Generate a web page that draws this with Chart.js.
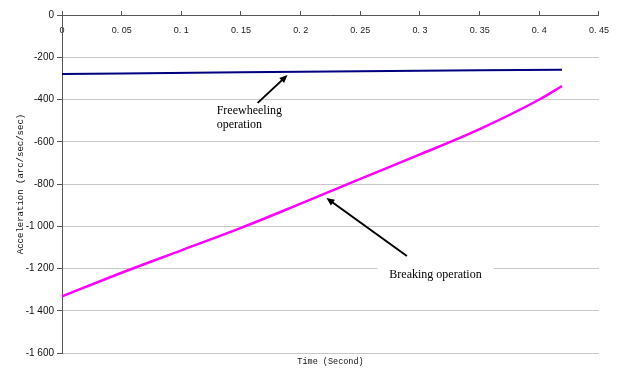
<!DOCTYPE html>
<html>
<head>
<meta charset="utf-8">
<title>Acceleration vs time</title>
<script src="https://cdn.jsdelivr.net/npm/chart.js@4/dist/chart.umd.min.js"></script>
<style>
  html, body { margin: 0; padding: 0; background: #fff; }
  #wrap { width: 619px; height: 379px; }
</style>
</head>
<body>
<div id="wrap"><canvas id="accel-chart"></canvas></div>
<script>
// ── Data ──────────────────────────────────────────────────────────────
const TIME_FREE  = [0, 0.05, 0.15, 0.25, 0.35, 0.419];
const ACCEL_FREE = [-279, -277, -271, -266, -262, -259];

const TIME_BRAKE  = [0, 0.05, 0.1, 0.15, 0.2, 0.25, 0.3, 0.35, 0.4, 0.419];
const ACCEL_BRAKE = [-1332, -1220, -1114, -1008, -893, -776, -660, -540, -400, -336];

const X_MIN = 0,     X_MAX = 0.45, X_STEP = 0.05;
const Y_MIN = -1600, Y_MAX = 0,    Y_STEP = 200;

const X_TITLE = 'Time (Second)';
const Y_TITLE = 'Acceleration (arc/sec/sec)';

// callouts, in data units: text anchor + arrow tail -> head
const NOTE_FREE  = { lines: ['Freewheeling', 'operation'], at: [0.1296, -452], tail: [0.164, -416], head: [0.189, -284] };
const NOTE_BRAKE = { lines: ['Breaking operation'],        at: [0.2743, -1228], tail: [0.289, -1141], head: [0.2216, -866] };

// ── Helpers ───────────────────────────────────────────────────────────
const pts = (xs, ys) => xs.map((x, i) => ({ x, y: ys[i] }));

function fmtTime(v) {
  const r = Math.round(v * 100) / 100;
  return r === 0 ? '0' : String(r).replace('.', '. ');
}

function fmtAccel(v) {
  const s = String(Math.abs(v));
  const body = s.length > 3 ? s.slice(0, -3) + ' ' + s.slice(-3) : s;
  return (v < 0 ? '-' : '') + body;
}

const NAVY    = '#000080';
const MAGENTA = '#FF00FF';
const AXIS    = '#555555';
const GRID    = '#c8c8c8';

// ── Callout plugin: serif labels with arrows ──────────────────────────
const callouts = {
  id: 'callouts',
  afterDraw(chart) {
    const { ctx, scales: { x, y } } = chart;
    const px = p => [x.getPixelForValue(p[0]), y.getPixelForValue(p[1])];

    function arrow(from, to) {
      const [x0, y0] = px(from);
      const [x1, y1] = px(to);
      const a = Math.atan2(y1 - y0, x1 - x0);
      const len = 8, w = 3.5;
      ctx.strokeStyle = '#000';
      ctx.fillStyle = '#000';
      ctx.lineWidth = 2;
      ctx.beginPath();
      ctx.moveTo(x0, y0);
      ctx.lineTo(x1 - Math.cos(a) * len * 0.8, y1 - Math.sin(a) * len * 0.8);
      ctx.stroke();
      ctx.beginPath();
      ctx.moveTo(x1, y1);
      ctx.lineTo(x1 - Math.cos(a) * len - Math.sin(a) * w, y1 - Math.sin(a) * len + Math.cos(a) * w);
      ctx.lineTo(x1 - Math.cos(a) * len + Math.sin(a) * w, y1 - Math.sin(a) * len - Math.cos(a) * w);
      ctx.closePath();
      ctx.fill();
    }

    function label(note, knockout) {
      const [tx, ty] = px(note.at);
      ctx.font = '12px "Liberation Serif", "Times New Roman", serif';
      ctx.textAlign = 'left';
      ctx.textBaseline = 'middle';
      note.lines.forEach((line, i) => {
        const ly = ty + i * 14;
        if (knockout) {
          const w = ctx.measureText(line).width;
          ctx.fillStyle = '#fff';
          ctx.fillRect(tx - 12, ly - 7, w + 24, 14);
        }
        ctx.fillStyle = '#000';
        ctx.fillText(line, tx, ly);
      });
    }

    ctx.save();
    label(NOTE_FREE, false);
    arrow(NOTE_FREE.tail, NOTE_FREE.head);
    label(NOTE_BRAKE, true);
    arrow(NOTE_BRAKE.tail, NOTE_BRAKE.head);
    ctx.restore();
  }
};

// ── Chart ─────────────────────────────────────────────────────────────
const datasets = [
  {
    label:       'Freewheeling operation',
    data:        pts(TIME_FREE, ACCEL_FREE),
    borderColor: NAVY,
    borderWidth: 2,
    pointRadius: 0,
    tension:     0,
    fill:        false
  },
  {
    label:       'Breaking operation',
    data:        pts(TIME_BRAKE, ACCEL_BRAKE),
    borderColor: MAGENTA,
    borderWidth: 2.5,
    pointRadius: 0,
    cubicInterpolationMode: 'monotone',
    fill:        false
  }
];

const options = {
  responsive:          true,
  maintainAspectRatio: false,
  animation:           false,
  layout:              { padding: { left: 0, right: 19, top: 0, bottom: 0 } },
  plugins: {
    legend:  { display: false },
    tooltip: { enabled: false }
  },
  scales: {
    x: {
      type:     'linear',
      position: 'top',
      min:      X_MIN,
      max:      X_MAX,
      grid:     { drawOnChartArea: false, tickLength: 4, tickColor: AXIS, color: AXIS },
      border:   { color: AXIS, width: 1 },
      ticks: {
        stepSize:    X_STEP,
        mirror:      true,
        padding:     10,
        maxRotation: 0,
        autoSkip:    false,
        color:       '#222',
        font:        { family: '"Liberation Sans", Arial, sans-serif', size: 9 },
        callback:    v => fmtTime(v)
      },
      afterFit(scale) { scale.height = 15; }
    },
    xTitle: {
      type:     'linear',
      position: 'bottom',
      min:      X_MIN,
      max:      X_MAX,
      grid:     { display: false },
      border:   { display: false },
      ticks:    { display: false },
      title: {
        display: true,
        text:    X_TITLE,
        color:   '#111',
        font:    { family: '"Liberation Mono", "DejaVu Sans Mono", monospace', size: 8.5 },
        padding: { top: 0, bottom: 12 }
      },
      afterFit(scale) { scale.height = 26; }
    },
    y: {
      min: Y_MIN,
      max: Y_MAX,
      grid:   { color: GRID, tickColor: AXIS, tickLength: 5 },
      border: { color: AXIS, width: 1 },
      ticks: {
        stepSize: Y_STEP,
        padding:  3,
        color:    '#111',
        font:     { family: '"Liberation Sans", Arial, sans-serif', size: 10 },
        callback: v => fmtAccel(v)
      },
      title: {
        display: true,
        text:    Y_TITLE,
        color:   '#111',
        font:    { family: '"Liberation Mono", "DejaVu Sans Mono", monospace', size: 9 },
        padding: { top: 15, bottom: 0 }
      },
      afterFit(scale) { scale.width = 62; }
    }
  }
};

new Chart(document.getElementById('accel-chart').getContext('2d'), {
  type: 'line',
  data: { datasets },
  options,
  plugins: [callouts]
});
</script>
</body>
</html>
